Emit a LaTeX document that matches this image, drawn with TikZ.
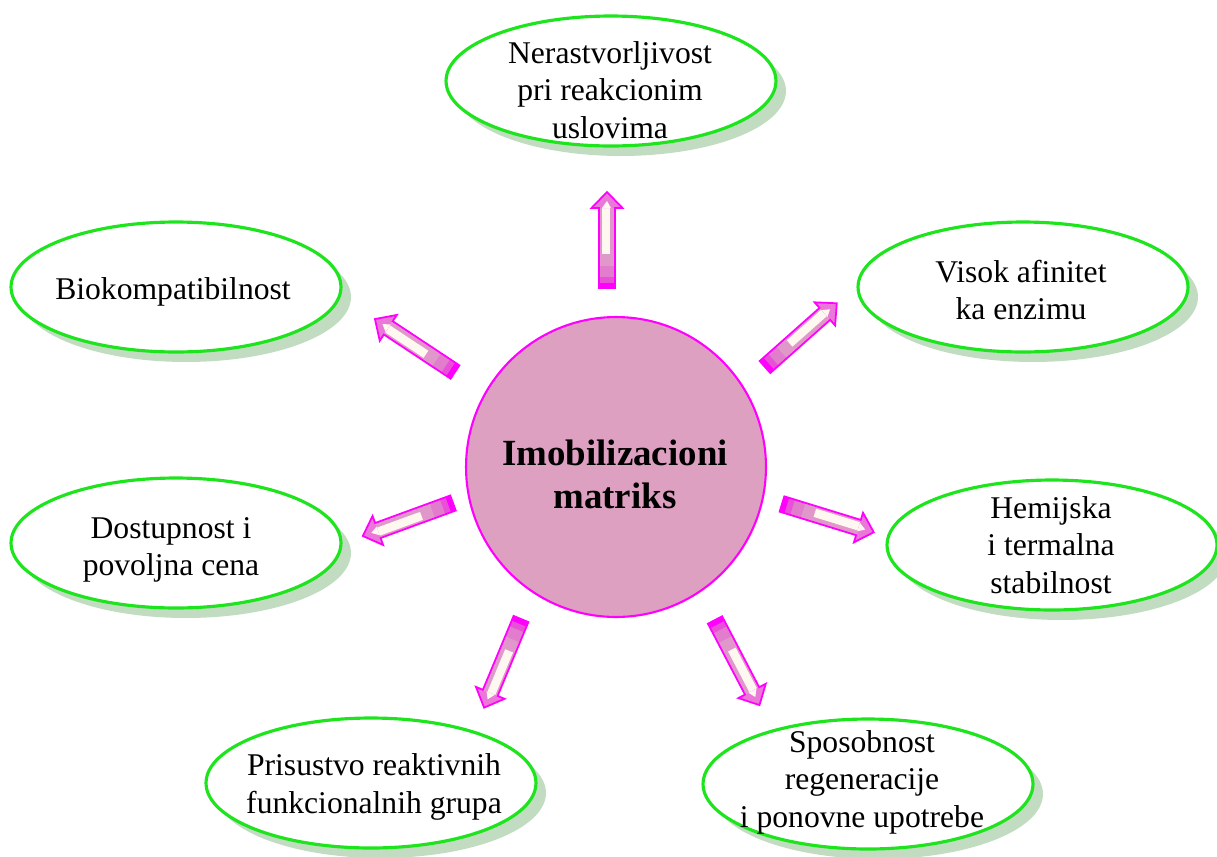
\documentclass[tikz,border=0pt]{standalone}
\usepackage{fontspec}
\setmainfont{Liberation Serif}
\usetikzlibrary{shapes.geometric,shadows}
\definecolor{bgreen}{RGB}{30,228,30}
\definecolor{shgreen}{RGB}{194,220,194}
\definecolor{matfill}{RGB}{221,160,192}
\definecolor{mag}{RGB}{255,0,255}
\definecolor{pk1}{RGB}{232,80,216}
\definecolor{pk2}{RGB}{226,124,204}
\definecolor{pk3}{RGB}{224,152,202}
\definecolor{cream}{RGB}{255,248,240}
\definecolor{headpk}{RGB}{234,120,216}
\newcommand{\blockarrow}[2]{%
\begin{scope}[shift={(#1)}, rotate=#2, x=0.02cm, y=0.02cm]
 \fill[pk3] (0,-8) -- (80,-8) -- (80,8) -- (0,8) -- cycle;
 \fill[cream] (34,-3) -- (80,-3) -- (80,5.5) -- (34,5.5) -- cycle;
 \fill[pk2] (0,-8) -- (22,-8) -- (22,8) -- (0,8) -- cycle;
 \fill[pk1] (0,-8) -- (11,-8) -- (11,8) -- (0,8) -- cycle;
 \fill[mag] (0,-8) -- (5,-8) -- (5,8) -- (0,8) -- cycle;
 \fill[headpk] (80,-15.5) -- (96,0) -- (80,15.5) -- cycle;
 \fill[cream] (80,-4) -- (87,0) -- (80,5) -- cycle;
 \draw[mag, line width=1pt, line join=miter] (0,-8) -- (80,-8) -- (80,-15.5) -- (96,0) -- (80,15.5) -- (80,8) -- (0,8) -- cycle;
\end{scope}}
\tikzset{
  bubble/.style={ellipse, draw=bgreen, line width=1.8pt, fill=white,
    minimum width=6.6cm, minimum height=2.6cm, inner sep=0pt,
    drop shadow={shadow xshift=0.2cm, shadow yshift=-0.2cm, fill=shgreen, opacity=1}},
  lbl/.style={align=center, inner sep=0pt, font=\fontsize{18}{21.3}\selectfont},
  matbox/.style={circle, draw=mag, line width=1.2pt, fill=matfill, minimum size=6cm, inner sep=0pt},
  matlbl/.style={align=center, inner sep=0pt, font=\bfseries\fontsize{21}{24.5}\selectfont}
}
\begin{document}
\begin{tikzpicture}[x=0.02cm, y=-0.02cm]
\useasboundingbox (0,0) rectangle (1217,856);
% center
\node[matbox] (mat) at (616,467) {};
\node[matlbl] (matt) at (615,474) {Imobilizacioni\\matriks};
% outer ellipses
\node[bubble] (n1) at (611,81) {};
\node[lbl] (n1t) at (610,90) {Nerastvorljivost\\pri reakcionim\\uslovima};
\node[bubble] (n2) at (1023,287) {};
\node[lbl] (n2t) at (1021,290) {Visok afinitet\\ka enzimu};
\node[bubble] (n3) at (1052,545) {};
\node[lbl] (n3t) at (1051,545) {Hemijska\\i termalna\\stabilnost};
\node[bubble] (n4) at (868,784) {};
\node[lbl] (n4t) at (862,782) {Sposobnost\\regeneracije\\i ponovne upotrebe};
\node[bubble] (n5) at (371,783) {};
\node[lbl] (n5t) at (374,787) {Prisustvo reaktivnih\\funkcionalnih grupa};
\node[bubble] (n6) at (176,543) {};
\node[lbl] (n6t) at (171,550) {Dostupnost i\\povoljna cena};
\node[bubble] (n7) at (176,287) {};
\node[lbl] (n7t) at (173,292) {Biokompatibilnost};
% arrow tails
\coordinate (a1) at (607,288);
\coordinate (a2) at (765,367);
\coordinate (a3) at (782,504);
\coordinate (a4) at (715,620);
\coordinate (a5) at (521,619);
\coordinate (a6) at (453,503);
\coordinate (a7) at (455,372);
\blockarrow{a1}{90}
\blockarrow{a2}{41.6}
\blockarrow{a3}{-17.1}
\blockarrow{a4}{-62.4}
\blockarrow{a5}{-112.6}
\blockarrow{a6}{-159.9}
\blockarrow{a7}{146.5}
\end{tikzpicture}
\end{document}
